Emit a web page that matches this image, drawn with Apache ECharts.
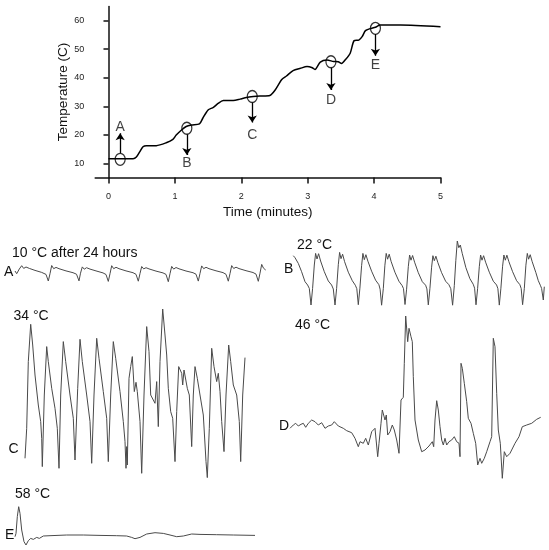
<!DOCTYPE html>
<title>temperature traces</title>
<style>
body {margin: 0; background: #fff;}
#echart {height: 550px; width: 549px;}
</style>
<div id='echart'></div>
<script src='https://cdn.jsdelivr.net/npm/echarts@6.0.0/dist/echarts.min.js'></script>
<script>
// temperature ramp (top panel)
let time_min = [0, 0.37, 0.42, 0.47, 0.52, 0.57, 0.72, 0.87, 0.97, 1.02, 1.10, 1.17, 1.25, 1.37, 1.42, 1.50, 1.58, 1.65, 1.73, 1.88, 1.98, 2.08, 2.18, 2.28, 2.43, 2.51, 2.61, 2.68, 2.78, 2.89, 2.99, 3.06, 3.11, 3.19, 3.29, 3.39, 3.46, 3.51, 3.57, 3.64, 3.70, 3.77, 3.82, 3.87, 3.94, 4.02, 4.09, 4.40, 5.0]
let temp_c = [11.6, 11.6, 12.2, 14.0, 15.8, 16.2, 16.2, 17.2, 18.4, 19.9, 21.7, 22.9, 23.4, 23.8, 25.8, 28.7, 29.6, 31.0, 32.0, 32.0, 32.5, 33.1, 33.4, 33.6, 33.8, 35.7, 39.4, 40.6, 42.5, 43.3, 43.9, 43.6, 42.9, 45.5, 46.2, 45.7, 45.6, 45.0, 46.4, 48.6, 53.0, 53.2, 54.4, 56.5, 57.2, 57.7, 58.5, 58.5, 57.9]

// sampling points A-E
let marker_names = ['A', 'B', 'C', 'D', 'E']
let marker_time = [0.176, 1.18, 2.165, 3.35, 4.02]
let marker_temp = [11.4, 22.3, 33.4, 45.6, 57.3]
let arrow_from = [13.5, 20.2, 31.3, 43.5, 55.3]
let arrow_to = [20.5, 12.9, 24.3, 35.7, 47.7]
let letter_temp = [22.8, 10.0, 19.9, 32.2, 44.5]

let time_ticks = [0, 1, 2, 3, 4, 5]
let temp_ticks = [10, 20, 30, 40, 50, 60]

// recorded traces: [time, amplitude] in arbitrary units
let trace_a = [[0,10.7],[1.7,8],[3,7.3],[4.3,12.7],[6.7,16],[8.7,13.3],[11,14.7],[14.3,13.3],[20,11.3],[26.7,9.3],[31,7.3],
	[33.3,0.7],[35,8],[36.7,16.2],[38.7,13],[41,14.3],[44,13],[51,10.8],[58,9],[61.5,7.5],
	[64,0.8],[65.5,8.5],[67.3,14.8],[69.3,12.5],[71.5,14],[75,12.6],[82,10.5],[88,8.8],[91,7.2],
	[93.3,0.3],[95,8],[96.7,16],[98.7,13],[101,14.4],[104,13],[111,10.8],[118,9],[121,7.4],
	[123.3,0.5],[125,8.2],[126.7,15.2],[128.7,12.8],[131,14],[134,12.8],[141,10.6],[148,8.8],[151,7.3],
	[153.3,0],[155,8],[156.7,15.3],[158.7,12.6],[161,14.2],[164,12.9],[171,10.7],[178,9],[181,7.5],
	[183.3,0.6],[185,8.3],[186.7,15.8],[188.7,13],[191,14.4],[194,13],[201,10.9],[208,9.1],[211,7.4],
	[213.3,0.5],[215,8.1],[216.7,16.1],[218.7,13.2],[221,14.5],[224,13.1],[231,11],[238,9.2],[241,7.6],
	[243.3,0.4],[245,8.5],[246.7,17.3],[248.5,13.5],[250.7,11.7]]

let trace_b = [[0,50],[1.7,48],[5,42.3],[8.3,34],[11.7,24],[14.3,20.7],[16,17.3],
	[17.7,0.7],[19.3,17.3],[21,40.7],[22.3,52.3],[23.7,46.7],[25.3,52],[27.3,44.7],[31,34],[35,24.7],[38.3,20.7],[40,16.7],
	[41.7,0.7],[43.3,17],[45,41],[46.3,53.3],[47.7,47],[49.3,51.5],[51.3,44],[55,33.5],[59,25],[62,20.5],[63.5,17],
	[65,1],[66.6,17.5],[68.3,40],[69.6,52.3],[71,46],[72.6,51],[74.6,44.5],[78.3,34.5],[82.3,25.5],[85.6,21],[86.8,16.5],
	[88.3,0.5],[90,17],[91.6,40.5],[92.9,52.3],[94.3,46.5],[95.9,51.5],[97.9,44],[101.6,33.5],[105.6,24.5],[108.9,20],[110.2,17],
	[111.7,1.2],[113.3,16.5],[115,39],[116.3,50.7],[117.7,45.5],[119.3,50.2],[121.3,43.5],[125,33],[129,24],[132.3,20.5],[133.6,16.8],
	[135,0.8],[136.6,17],[138.3,38.5],[139.6,50],[141,45],[142.6,49.5],[144.6,43],[148.3,33],[152.3,24.5],[155.6,21],[157.5,17],
	[159.3,0.5],[161,20],[162.5,45],[164,64.7],[165.5,58],[167,60.7],[169,52],[172.6,38],[176.6,27],[179.9,21.5],[181.3,17.5],
	[182.7,0.9],[184.3,17],[186,39],[187.3,50.7],[188.7,45.5],[190.3,50],[192.3,43.5],[196,33.5],[200,24.5],[203.3,20.7],[204.6,17],
	[206,0.6],[207.6,17.5],[209.3,39.5],[210.6,50.7],[212,45.5],[213.6,50.5],[215.6,44],[219.3,34],[223.3,25],[226.6,21],[227.9,17.2],
	[229.3,1],[231,17],[232.6,40.5],[234,52.3],[235.3,46.5],[236.9,51],[238.9,44],[242.6,33],[245,25],[247,20.5],[248.3,17.3],
	[250,5.7],[251,19]]

let trace_c = [[0,20],[1.7,50],[3.3,116.7],[5.7,154],[7.7,133.3],[10,103.3],[13.3,73.3],[15.7,56.7],[16.7,40],
	[17.3,11.7],[19.3,83.3],[21.7,131.7],[23.3,116.7],[26.7,90],[30,70],[32.3,50],
	[34,10],[35.7,83.3],[38.3,136.7],[40.7,116.7],[45,83.3],[48.3,60],
	[50,18.3],[52.7,90],[55,139],[57.3,116.7],[61.7,83.3],[65,56.7],
	[66.7,15],[69,83.3],[71.7,140],[74,120],[78.3,86.7],[81.7,60],
	[83.3,16.7],[85.7,83.3],[88.3,136.7],[90.7,120],[95,86.7],[98.3,56.7],[100,36.7],
	[101,10],[101.7,31.7],[102.3,13.3],[104,100],[105.7,111.7],[107.3,121.7],[109.3,86.7],[111,96],[112.3,86.7],[115,56.7],
	[116.7,5],[119,83.3],[121.7,151.7],[124,126.7],[125.7,83.3],[128.3,78.3],[130,75],[131.7,96.7],[133.3,51.7],
	[135,116.7],[137.7,169.3],[140,143.3],[141.7,123.3],[143.3,90],[145.7,66.7],[147.7,60],
	[150,16.7],[151.7,66.7],[153.7,111.7],[156.7,105],[157.7,93.3],[159,108.3],[160.7,110],[162.3,90],[164.3,83.3],
	[166.7,31.7],[168.3,83.3],[170,111.7],[172.3,100],[175,83.3],[178.3,63.3],[181,16.7],
	[182.3,0.7],[184.3,50],[186.7,130],[189,111.7],[191.7,96.7],[193.3,105],[195,86.7],[196.7,56.7],
	[199,26.7],[201,83.3],[203.7,133.3],[205.7,116.7],[208.3,93.3],[211.7,83.3],[214.3,56.7],
	[215.7,16.7],[217.7,83.3],[220,120.7]]

let trace_d = [[0,51.7],[3.3,55],[5.7,56.7],[8.3,54],[11,55.7],[13.3,56.7],[15.7,52.7],[18.3,56.7],[21.7,60],[25,58.3],
	[28.3,55],[31.7,57.3],[35,51.7],[38.3,54],[41.7,55],[44.3,58.3],[48.3,54],[53.3,51.7],[56.7,49.3],[61.7,47.3],
	[65,41.7],[68.3,33.3],[70,38.3],[73.3,36.7],[75.7,41.7],[78.3,35],[81.7,48.3],[85,51.7],[86.7,50],[87.7,23.3],
	[89,36.7],[91,56.7],[92.3,70],[93.7,71.3],[95,60],[96.3,65],[97.7,45],[100,48.3],[102.3,55],[104.3,50],
	[106.7,40],[109,26.7],[111,80],[113.3,82.7],[114.3,116.7],[115.7,164],[117.7,138.3],[119,151.7],[121,143.3],[122.3,138.3],
	[123.3,103.3],[125,60],[128.3,40],[131.7,28.3],[135,30],[139,34],[142.3,38.3],[143.7,33.3],[145,60],[146.7,79.3],
	[148.3,70],[150,53.3],[151.7,40],[153.3,35],[155,41.7],[156.7,35],[159,38.3],[161.7,40],[164.3,43.3],[166.7,38.3],
	[169,36.7],[170,23.3],[171,116.7],[172.3,111.7],[174.3,96.7],[176.7,78.3],[178.3,61.7],[181,56.7],[183.3,46.7],[185.7,36.7],
	[187.7,15],[190,21.7],[191.7,16.7],[194.3,21.7],[196.7,28.3],[200,38.3],[201.7,43.3],[203.3,141.7],[205,133.3],[206.7,86.7],
	[208.3,50],[210.3,36.7],[212.3,1.7],[214.3,28.3],[216.7,23.3],[220,26.7],[225,36.7],[229,43.3],[232.3,53.3],[236.7,55],
	[241.7,56.7],[246.7,60.7],[250.7,62.7]]

let trace_e = [[0,10],[1,13.3],[2.3,30],[3.7,40],[5,33.3],[6.7,16.7],[9,5],[11,1.7],[13.3,6],[15.7,8.3],[18.3,7.3],
	[21.7,9.3],[24.3,8.3],[28.3,10.7],[35,11],[51.7,11.7],[68.3,11.7],[85,11.3],[101.7,11],[111.7,10.7],[116.7,9.3],
	[120,8],[125,9.3],[131.7,12.7],[140,14],[148.3,13.3],[155,11.7],[161.7,10],[168.3,10.7],[176.7,12.7],[185,12.3],
	[201.7,12],[218.3,11.7],[240,11.3]]

let traces = [trace_a, trace_b, trace_c, trace_d, trace_e]
let trace_labels = ['10 °C after 24 hours', '22 °C', '34 °C', '46 °C', '58 °C']

// panel layout for the five traces
let trace_boxes = [
	{left: 15, top: 261.7, width: 251, height: 20},
	{left: 293.3, top: 239.7, width: 251, height: 66},
	{left: 25, top: 306.3, width: 220, height: 172},
	{left: 290, top: 314, width: 251, height: 166},
	{left: 15, top: 504.7, width: 240, height: 42},
]
let title_pos = [[12, 252.7], [297, 245], [13.5, 316], [295, 325], [15, 494]]
let letter_pos = [[4, 272], [284, 269], [8.5, 449], [279, 426], [5, 535]]

let font = 'Liberation Sans, Arial, sans-serif'

let grids = [{left: 95.2, top: 6.4, width: 345.3, height: 171.2}]
let x_axes = [{
	type: 'value', gridIndex: 0, min: -0.2, max: 5,
	name: 'Time (minutes)', nameLocation: 'middle', nameGap: 28,
	nameTextStyle: {fontSize: 13.5, fontFamily: font, color: '#111'},
	axisLine: {lineStyle: {color: '#111', width: 1.5}},
	axisTick: {customValues: time_ticks, length: 6, lineStyle: {color: '#111', width: 1.5}},
	axisLabel: {customValues: time_ticks, margin: 14, fontSize: 9, fontFamily: font, color: '#222'},
	splitLine: {show: false},
}]
let y_axes = [{
	type: 'value', gridIndex: 0, min: 5, max: 65,
	name: 'Temperature (C)', nameLocation: 'middle', nameGap: 25, nameRotate: 90, nameMoveOverlap: false,
	nameTextStyle: {fontSize: 13.5, fontFamily: font, color: '#111'},
	axisLine: {show: true, lineStyle: {color: '#111', width: 1.5}},
	axisTick: {show: true, customValues: temp_ticks, length: 5, lineStyle: {color: '#111', width: 1.5}},
	axisLabel: {customValues: temp_ticks, margin: 11, fontSize: 9, fontFamily: font, color: '#222'},
	splitLine: {show: false},
}]

let series = [
	{type: 'line', name: 'temperature', xAxisIndex: 0, yAxisIndex: 0, data: time_min.map((t, i) => [t, temp_c[i]]),
		showSymbol: false, smooth: 0.25, lineStyle: {color: '#000', width: 1.5}},
	{type: 'scatter', name: 'samples', xAxisIndex: 0, yAxisIndex: 0, data: marker_time.map((t, i) => [t, marker_temp[i]]),
		symbol: 'circle', symbolSize: [10, 12], itemStyle: {color: 'rgba(0,0,0,0)', borderColor: '#000', borderWidth: 1.3}},
	{type: 'lines', name: 'arrows', coordinateSystem: 'cartesian2d', xAxisIndex: 0, yAxisIndex: 0,
		data: marker_time.map((t, i) => ({coords: [[t, arrow_from[i]], [t, arrow_to[i]]]})),
		symbol: ['none', 'arrow'], symbolSize: 7, lineStyle: {color: '#000', width: 1.3, opacity: 1}},
	{type: 'scatter', name: 'letters', xAxisIndex: 0, yAxisIndex: 0,
		data: marker_time.map((t, i) => ({value: [t, letter_temp[i]], name: marker_names[i]})),
		symbolSize: 1, itemStyle: {color: 'rgba(0,0,0,0)'},
		label: {show: true, position: 'inside', formatter: '{b}', fontSize: 14, fontFamily: font, color: '#111'}},
]

let graphics = []
traces.forEach((tr, i) => {
	let box = trace_boxes[i]
	grids.push(box)
	x_axes.push({type: 'value', gridIndex: i + 1, min: 0, max: box.width, show: false, splitLine: {show: false}})
	y_axes.push({type: 'value', gridIndex: i + 1, min: 0, max: box.height, show: false, splitLine: {show: false}})
	series.push({type: 'line', name: marker_names[i], xAxisIndex: i + 1, yAxisIndex: i + 1, data: tr,
		showSymbol: false, lineStyle: {color: '#4a4a4a', width: 1}})
	graphics.push({type: 'text', x: title_pos[i][0], y: title_pos[i][1],
		style: {text: trace_labels[i], fontSize: 14, fontFamily: font, fill: '#111', verticalAlign: 'middle'}})
	graphics.push({type: 'text', x: letter_pos[i][0], y: letter_pos[i][1],
		style: {text: marker_names[i], fontSize: 14, fontFamily: font, fill: '#111', verticalAlign: 'middle'}})
})

let echart = echarts.init(document.querySelector('#echart'))
echart.setOption({
	animation: false,
	grid: grids,
	xAxis: x_axes,
	yAxis: y_axes,
	series: series,
	graphic: graphics,
})
</script>
